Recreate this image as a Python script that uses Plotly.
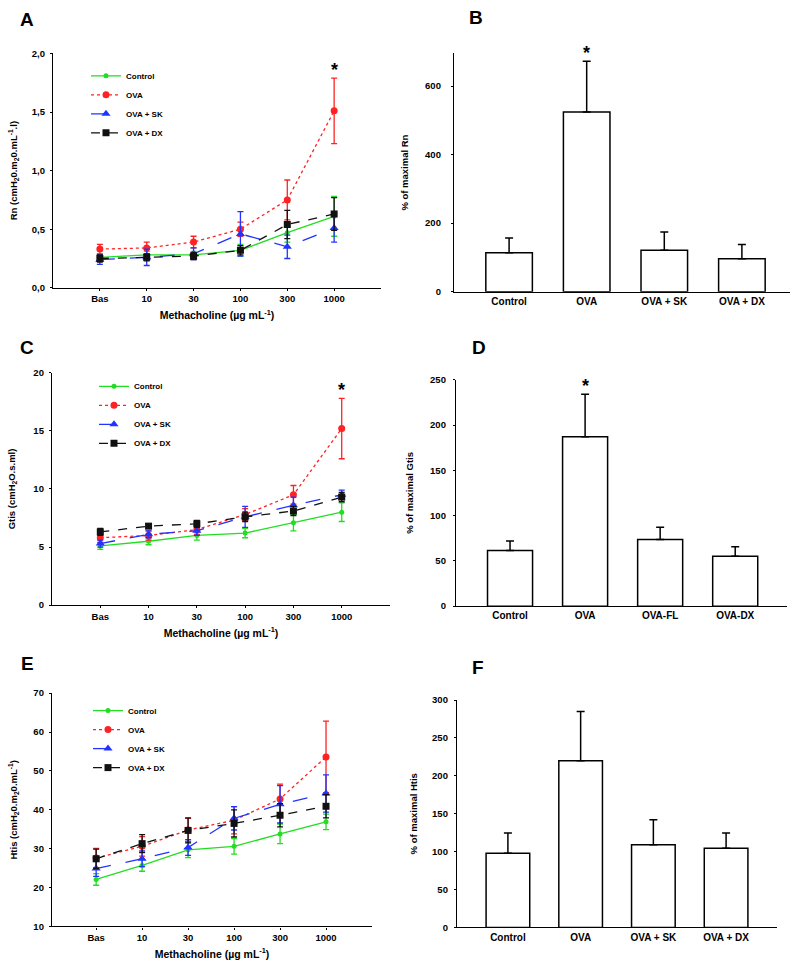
import plotly.graph_objects as go

# ---------------- data ----------------
doses = ["Bas", "10", "30", "100", "300", "1000"]
groups = ["Control", "OVA", "OVA + SK", "OVA + DX"]

# Panel A: Rn
rn_control = [0.26, 0.28, 0.28, 0.32, 0.47, 0.61]
rn_control_err = [0.03, 0.03, 0.03, 0.05, 0.08, 0.17]
rn_ova = [0.33, 0.34, 0.39, 0.50, 0.75, 1.51]
rn_ova_err = [0.04, 0.05, 0.05, 0.06, 0.17, 0.28]
rn_sk = [0.24, 0.26, 0.29, 0.46, 0.35, 0.51]
rn_sk_err = [0.04, 0.07, 0.05, 0.19, 0.10, 0.12]
rn_dx = [0.25, 0.26, 0.27, 0.32, 0.54, 0.63]
rn_dx_err = [0.03, 0.03, 0.03, 0.04, 0.12, 0.14]

# Panel C: Gtis
gt_control = [5.1, 5.5, 6.0, 6.2, 7.1, 8.0]
gt_control_err = [0.3, 0.3, 0.4, 0.4, 0.7, 0.8]
gt_ova = [5.8, 6.0, 6.5, 7.8, 9.5, 15.2]
gt_ova_err = [0.4, 0.4, 0.4, 0.5, 0.8, 2.6]
gt_sk = [5.3, 6.1, 6.4, 7.6, 8.6, 9.5]
gt_sk_err = [0.3, 0.3, 0.4, 0.9, 0.7, 0.4]
gt_dx = [6.3, 6.8, 7.0, 7.6, 8.1, 9.3]
gt_dx_err = [0.3, 0.2, 0.3, 0.4, 0.4, 0.4]

# Panel E: Htis
ht_control = [22.1, 25.7, 29.7, 30.6, 33.8, 36.9]
ht_control_err = [1.5, 1.5, 2.0, 2.0, 2.5, 2.0]
ht_ova = [27.6, 30.6, 34.8, 37.3, 42.8, 53.6]
ht_ova_err = [2.5, 2.5, 3.0, 3.5, 3.8, 9.2]
ht_sk = [24.9, 27.4, 30.3, 37.8, 41.4, 44.2]
ht_sk_err = [2.0, 2.0, 2.0, 3.0, 4.8, 4.8]
ht_dx = [27.4, 31.3, 34.7, 36.5, 38.6, 40.9]
ht_dx_err = [2.5, 2.3, 3.2, 3.5, 3.0, 3.0]

# Bar panels
bar_cats_b = ["Control", "OVA", "OVA + SK", "OVA + DX"]
bar_b = [114, 524, 121, 96]
bar_b_err = [43, 148, 53, 42]
bar_cats_d = ["Control", "OVA", "OVA-FL", "OVA-DX"]
bar_d = [61.5, 187, 73.5, 55]
bar_d_err = [10.5, 47, 13.5, 10.5]
bar_cats_f = ["Control", "OVA", "OVA + SK", "OVA + DX"]
bar_f = [98, 220, 109, 104.5]
bar_f_err = [26.5, 65, 33, 20]

# significance stars: (category index, value it sits on top of)
star_a = (5, rn_ova[5] + rn_ova_err[5])
star_b = (1, bar_b[1] + bar_b_err[1])
star_c = (5, gt_ova[5] + gt_ova_err[5])
star_d = (1, bar_d[1] + bar_d_err[1])

# ---------------- styling ----------------
FONT = "Liberation Sans"
W, H = 800, 972

styles = {
    "Control": dict(color="#22dd22", dash="solid", symbol="circle", size=5),
    "OVA": dict(color="#ff2222", dash="dot", symbol="circle", size=7),
    "OVA + SK": dict(color="#2233ff", dash="longdash", symbol="triangle-up", size=8),
    "OVA + DX": dict(color="#111111", dash="dash", symbol="square", size=7),
}

def px_dom_x(a, b):
    return [a / W, b / W]

def px_dom_y(top, bottom):
    return [1 - bottom / H, 1 - top / H]

fig = go.Figure()

line_panels = [
    ("x", "y", "legend", [(rn_control, rn_control_err), (rn_ova, rn_ova_err), (rn_sk, rn_sk_err), (rn_dx, rn_dx_err)]),
    ("x3", "y3", "legend2", [(gt_control, gt_control_err), (gt_ova, gt_ova_err), (gt_sk, gt_sk_err), (gt_dx, gt_dx_err)]),
    ("x5", "y5", "legend3", [(ht_control, ht_control_err), (ht_ova, ht_ova_err), (ht_sk, ht_sk_err), (ht_dx, ht_dx_err)]),
]

for xa, ya, lg, series in line_panels:
    for g, (vals, errs) in zip(groups, series):
        s = styles[g]
        fig.add_trace(go.Scatter(
            x=doses, y=vals, xaxis=xa, yaxis=ya, name=g, legend=lg,
            mode="lines+markers",
            line=dict(color=s["color"], dash=s["dash"], width=1.3),
            marker=dict(color=s["color"], symbol=s["symbol"], size=s["size"]),
            error_y=dict(type="data", array=errs, visible=True, color=s["color"],
                         thickness=1.3, width=3),
            cliponaxis=False,
        ))

bar_panels = [
    ("x2", "y2", bar_cats_b, bar_b, bar_b_err),
    ("x4", "y4", bar_cats_d, bar_d, bar_d_err),
    ("x6", "y6", bar_cats_f, bar_f, bar_f_err),
]
for xa, ya, cats, vals, errs in bar_panels:
    fig.add_trace(go.Bar(
        x=cats, y=vals, xaxis=xa, yaxis=ya, showlegend=False, width=0.6,
        marker=dict(color="white", line=dict(color="black", width=1.5)),
        error_y=dict(type="data", array=errs, arrayminus=[0] * len(errs),
                     symmetric=False, visible=True, color="black", thickness=1.5, width=4),
        cliponaxis=False,
    ))

tickfont = dict(family=FONT, size=9.5, color="black", weight="bold")
bartickfont = dict(family=FONT, size=10, color="black", weight="bold")
titlefont = dict(family=FONT, size=9.5, color="black", weight="bold")
xtitlefont = dict(family=FONT, size=10.5, color="black", weight="bold")

def axis_common():
    return dict(showline=True, linecolor="black", linewidth=1.3, showgrid=False,
                zeroline=False, ticks="outside", ticklen=2, tickcolor="black",
                tickwidth=1, tickfont=tickfont)

meth_title = "Methacholine (µg mL<sup>-1</sup>)"

layout = dict(
    width=W, height=H, margin=dict(l=0, r=0, t=0, b=0),
    paper_bgcolor="white", plot_bgcolor="white",
    font=dict(family=FONT, color="black"),
)

# Panel A
layout["xaxis"] = dict(axis_common(), domain=px_dom_x(53, 381), anchor="y",
                       range=[-1, 6], title=dict(text=meth_title, font=xtitlefont, standoff=8))
layout["yaxis"] = dict(axis_common(), domain=px_dom_y(48, 285), anchor="x",
                       range=[0, 2], tickvals=[0, 0.5, 1.0, 1.5, 2.0],
                       ticktext=["0,0", "0,5", "1,0", "1,5", "2,0"], ticklabelstandoff=3,
                       title=dict(text="Rn (cmH<sub>2</sub>0.m<sub>2</sub>0.mL<sup>-1</sup>.l)",
                                  font=titlefont, standoff=12))
# Panel B
layout["xaxis2"] = dict(axis_common(), domain=px_dom_x(454, 790), anchor="y2",
                        range=[-0.71, 3.62], ticks="", tickfont=bartickfont)
layout["yaxis2"] = dict(axis_common(), domain=px_dom_y(48, 289), anchor="x2",
                        range=[0, 695], tickvals=[0, 200, 400, 600], ticklabelstandoff=8,
                        title=dict(text="% of maximal Rn", font=titlefont, standoff=14))
# Panel C
layout["xaxis3"] = dict(axis_common(), domain=px_dom_x(52, 390), anchor="y3",
                        range=[-1, 6], title=dict(text=meth_title, font=xtitlefont, standoff=8))
layout["yaxis3"] = dict(axis_common(), domain=px_dom_y(371, 606), anchor="x3",
                        range=[0, 20], tickvals=[0, 5, 10, 15, 20], ticklabelstandoff=3,
                        title=dict(text="Gtis (cmH<sub>2</sub>O.s.ml)", font=titlefont, standoff=16))
# Panel D
layout["xaxis4"] = dict(axis_common(), domain=px_dom_x(456, 787), anchor="y4",
                        range=[-0.72, 3.69], ticks="", tickfont=bartickfont)
layout["yaxis4"] = dict(axis_common(), domain=px_dom_y(378, 607), anchor="x4",
                        range=[0, 250], tickvals=[0, 50, 100, 150, 200, 250], ticklabelstandoff=5,
                        title=dict(text="% of maximal Gtis", font=titlefont, standoff=14))
# Panel E
layout["xaxis5"] = dict(axis_common(), domain=px_dom_x(52, 372), anchor="y5",
                        range=[-0.96, 6], title=dict(text=meth_title, font=xtitlefont, standoff=8))
layout["yaxis5"] = dict(axis_common(), domain=px_dom_y(695, 931), anchor="x5",
                        range=[10, 70], tickvals=[10, 20, 30, 40, 50, 60, 70], ticklabelstandoff=3,
                        title=dict(text="Htis (cmH<sub>2</sub>0.m<sub>2</sub>0.mL<sup>-1</sup>)",
                                   font=titlefont, standoff=14))
# Panel F
layout["xaxis6"] = dict(axis_common(), domain=px_dom_x(457, 777), anchor="y6",
                        range=[-0.70, 3.70], ticks="", tickfont=bartickfont)
layout["yaxis6"] = dict(axis_common(), domain=px_dom_y(702, 932), anchor="x6",
                        range=[0, 300], tickvals=[0, 50, 100, 150, 200, 250, 300], ticklabelstandoff=4,
                        title=dict(text="% of maximal Htis", font=titlefont, standoff=12))

legfont = dict(family=FONT, size=8, color="black", weight="bold")
def leg(xpx, ypx):
    return dict(x=xpx / W, y=1 - ypx / H, xanchor="left", yanchor="top",
                bgcolor="rgba(0,0,0,0)", font=legfont, tracegroupgap=0,
                itemwidth=30)
layout["legend"] = leg(86, 56)
layout["legend2"] = leg(94, 370)
layout["legend3"] = leg(88, 698)

fig.update_layout(**layout)

# panel letters
letters = [("A", 27, 14), ("B", 476, 12), ("C", 27, 345), ("D", 479, 345), ("E", 27, 665), ("F", 478, 669)]
for t, xp, yp in letters:
    fig.add_annotation(text=t, x=xp / W, y=1 - yp / H, xref="paper", yref="paper",
                       xanchor="center", yanchor="middle",
                       showarrow=False, font=dict(family=FONT, size=19, color="black", weight="bold"))

# stars
for (cx, cy), xr, yr in [(star_a, "x", "y"), (star_b, "x2", "y2"), (star_c, "x3", "y3"), (star_d, "x4", "y4")]:
    fig.add_annotation(text="*", x=cx, y=cy, xref=xr, yref=yr, showarrow=False,
                       xanchor="center", yanchor="bottom", yshift=-4,
                       font=dict(family=FONT, size=18, color="black", weight="bold"))

fig.write_html("out.html", config={"displayModeBar": False},
               post_script="document.body.style.margin='0';")
